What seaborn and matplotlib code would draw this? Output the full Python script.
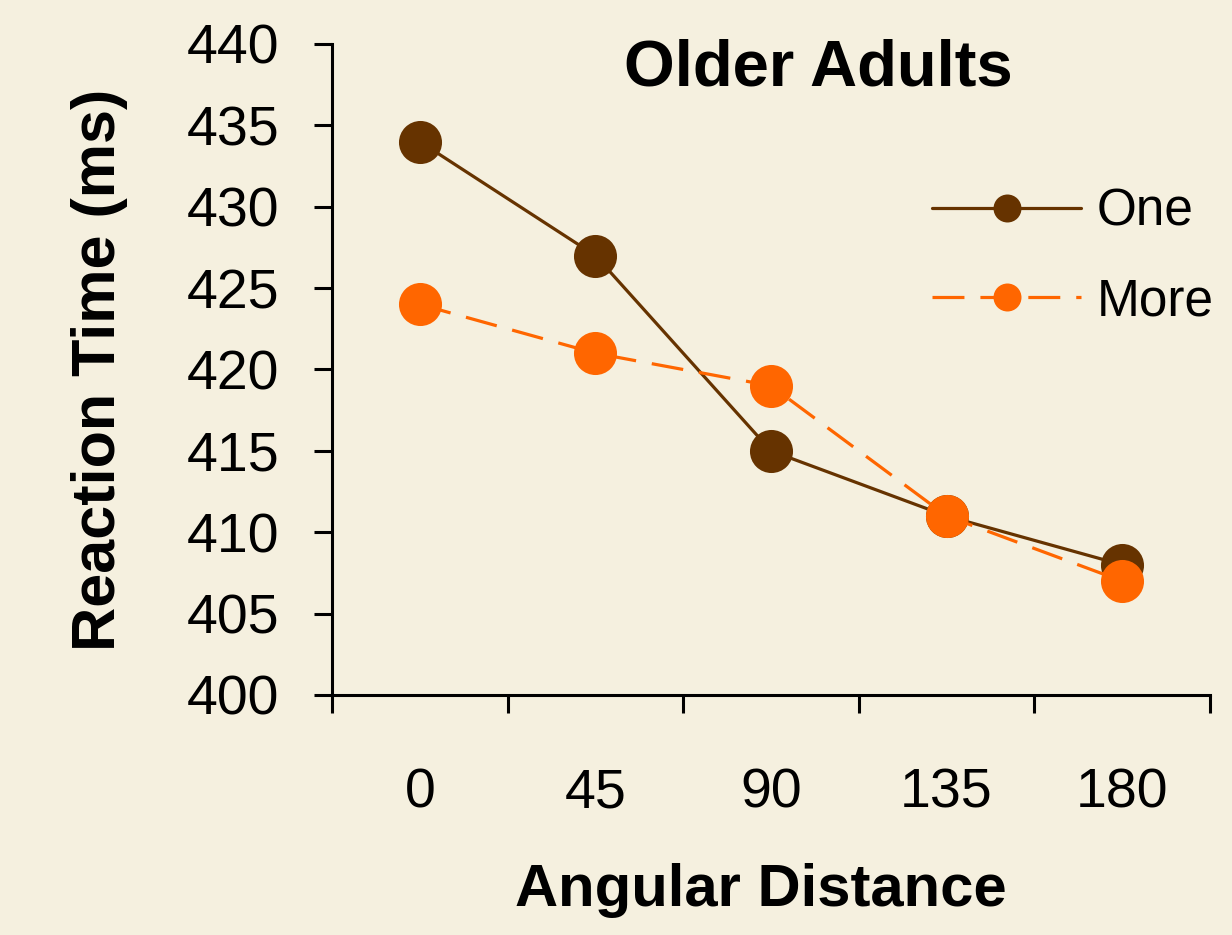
import matplotlib
matplotlib.use("Agg")
import matplotlib.pyplot as plt
import seaborn as sns
import pandas as pd
from matplotlib.ticker import FixedLocator

angles = ["0", "45", "90", "135", "180"]
one_rt = [434, 427, 415, 411, 408]
more_rt = [424, 421, 419, 411, 407]
groups = ["One", "More"]
y_ticks = [400, 405, 410, 415, 420, 425, 430, 435, 440]

df = pd.DataFrame({
    "angle": angles * 2,
    "rt": one_rt + more_rt,
    "group": ["One"] * len(angles) + ["More"] * len(angles),
})

sns.set_theme(style="white")
plt.rcParams["font.family"] = ["Liberation Sans", "DejaVu Sans"]
plt.rcParams["text.color"] = "black"
plt.rcParams["axes.labelcolor"] = "black"
plt.rcParams["xtick.color"] = "black"
plt.rcParams["ytick.color"] = "black"

BG = "#F5F0DF"
fig = plt.figure(figsize=(12.32, 9.35), dpi=100, facecolor=BG)
ax = fig.add_axes([332 / 1232, 1 - 695 / 935, (1210 - 332) / 1232, (695 - 44) / 935])
ax.set_facecolor(BG)

sns.lineplot(
    data=df, x="angle", y="rt", hue="group", style="group",
    hue_order=groups, style_order=groups,
    palette={"One": "#663300", "More": "#FF6600"},
    markers={"One": "o", "More": "o"},
    dashes={"One": "", "More": (10, 5)},
    markersize=31, markeredgewidth=0, linewidth=2.3,
    sort=False, ax=ax, legend=False,
)

ax.set_xlim(-0.5, 4.5)
ax.set_ylim(400, 440)
ax.set_yticks(y_ticks)
ax.set_xticks(range(len(angles)))
ax.set_xticklabels(angles)
ax.xaxis.set_minor_locator(FixedLocator([i - 0.5 for i in range(len(angles) + 1)]))

for s in ["top", "right"]:
    ax.spines[s].set_visible(False)
for s in ["left", "bottom"]:
    ax.spines[s].set_linewidth(2.2)
    ax.spines[s].set_color("black")

ax.tick_params(axis="y", which="major", direction="out", length=13, width=2.2,
               color="black", labelcolor="black", labelsize=40, pad=25, left=True)
ax.tick_params(axis="x", which="major", length=0, labelsize=40, labelcolor="black",
               pad=52, bottom=True)
ax.tick_params(axis="x", which="minor", direction="out", length=13, width=2.2,
               color="black", bottom=True)

ax.set_xlabel("Angular Distance", fontsize=43, fontweight="bold", color="black")
ax.set_ylabel("Reaction Time (ms)", fontsize=44, fontweight="bold", color="black")
ax.xaxis.set_label_coords((761 - 332) / 878, -(890 - 695) / 651)
ax.yaxis.set_label_coords(-(332 - 100) / 878, 0.5)
ax.xaxis.label.set_va("center")
ax.yaxis.label.set_va("center")

ax.text((818 - 332) / 878, (695 - 68) / 651, "Older Adults", transform=ax.transAxes,
        ha="center", va="center", fontsize=47, fontweight="bold", color="black")

lines = ax.get_lines()[:2]
leg = ax.legend(lines, groups, loc="upper left",
                bbox_to_anchor=((932 - 332) / 878, (695 - 188) / 651),
                frameon=False, fontsize=37, handlelength=2.9, handletextpad=0.3,
                labelspacing=0.78, borderpad=0, borderaxespad=0, markerscale=0.65)
for t in leg.get_texts():
    t.set_color("black")

fig.savefig("out.png", dpi=100, facecolor=BG)
